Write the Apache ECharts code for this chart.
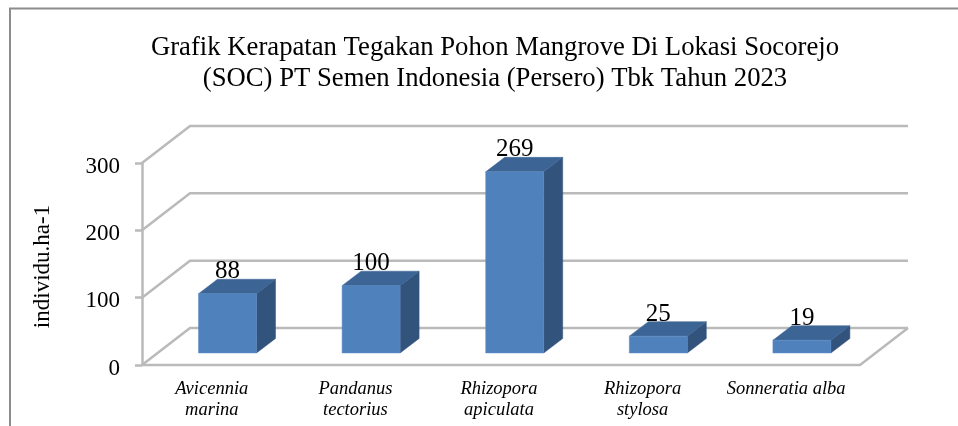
<!DOCTYPE html>
<html><head><meta charset="utf-8">
<style>html,body{margin:0;padding:0;background:#fff}#c{width:958px;height:426px}</style>
<script src="https://cdn.jsdelivr.net/npm/echarts@6/dist/echarts.min.js"></script>
</head><body><div id="c"></div>
<script>
const categories = ['Avicennia\nmarina','Pandanus\ntectorius','Rhizopora\napiculata','Rhizopora\nstylosa','Sonneratia alba'];
const values = [88,100,269,25,19];
const ticks = [0,100,200,300];
const titleText = 'Grafik Kerapatan Tegakan Pohon Mangrove Di Lokasi Socorejo\n(SOC) PT Semen Indonesia (Persero) Tbk Tahun 2023';
const yName = 'individu.ha-1';

const FONT = '"Liberation Serif","Times New Roman",serif';
const GRID = '#bababa';
const WALL = {dx:48, dy:-37};
const BAR = {lift:12, shift:13.7, width:58, dx:19, dy:-14.5};
const chart = echarts.init(document.getElementById('c'), null, {renderer:'canvas'});

function wallItem(params, api){
  const v = api.value(0);
  const p = api.coord([0, v]);
  const x0 = params.coordSys.x, x1 = x0 + params.coordSys.width;
  const line = pts => ({type:'polyline', shape:{points:pts}, style:{fill:null, stroke:GRID, lineWidth:2.5}});
  const kids = [line([[x0,p[1]],[x0+WALL.dx,p[1]+WALL.dy],[x1+WALL.dx,p[1]+WALL.dy]])];
  if(v===0) kids.push(line([[x0,p[1]],[x1,p[1]],[x1+WALL.dx,p[1]+WALL.dy]]));
  return {type:'group', children:kids};
}
function barItem(params, api){
  const i = api.value(0), v = api.value(1);
  const base = api.coord([i,0]), top = api.coord([i,v]);
  const cx = base[0] + BAR.shift, w = BAR.width;
  const l = cx - w/2, r = cx + w/2;
  const yb = base[1] - BAR.lift, yt = top[1] - BAR.lift;
  const poly = (pts,fill) => ({type:'polygon', shape:{points:pts}, style:{fill, stroke:fill, lineWidth:0.5}});
  return {type:'group', children:[
    poly([[r,yb],[r+BAR.dx,yb+BAR.dy],[r+BAR.dx,yt+BAR.dy],[r,yt]], '#31537c'),
    poly([[l,yt],[l+BAR.dx,yt+BAR.dy],[r+BAR.dx,yt+BAR.dy],[r,yt]], '#3c6494'),
    {type:'rect', shape:{x:l,y:yt,width:w,height:yb-yt}, style:{fill:'#4f81bd', stroke:'#5f8cc4', lineWidth:0.5}},
    {type:'text', style:{text:String(v), x:cx, y:yt+BAR.dy+5, align:'center', verticalAlign:'bottom',
      font:'25px '+FONT, fill:'#000'}}
  ]};
}
chart.setOption({
  animation:false,
  backgroundColor:'#fff',
  title:{text:titleText, left:490, top:27, textAlign:'center',
    textStyle:{fontFamily:FONT, fontSize:26.7, fontWeight:'normal', color:'#000', lineHeight:31}},
  grid:{left:142, top:163, width:718, height:202},
  xAxis:{type:'category', data:categories,
    axisLine:{show:false}, axisTick:{show:false},
    axisLabel:{fontFamily:FONT, fontStyle:'italic', fontSize:18.5, color:'#000', lineHeight:21.7, margin:13, interval:0, padding:[0,4,0,0]}},
  yAxis:{type:'value', min:0, max:300, interval:100,
    name:yName, nameLocation:'middle', nameGap:88, nameRotate:90,
    nameTextStyle:{fontFamily:FONT, fontSize:23, color:'#000', padding:[0,5,0,0]},
    axisLine:{show:true, lineStyle:{color:GRID, width:2.5}},
    axisTick:{show:true, length:7, lineStyle:{color:GRID, width:2.5}},
    axisLabel:{margin:22, formatter:'{a|{value}}',
      rich:{a:{fontFamily:FONT, fontSize:23, color:'#000', padding:[7,0,0,0]}}},
    splitLine:{show:false}},
  graphic:[{type:'polyline', silent:true, shape:{points:[[10,426],[10,8.5],[958,8.5]]},
    style:{fill:null, stroke:'#8c8c8c', lineWidth:2}}],
  series:[
    {type:'custom', silent:true, clip:false, z:1, renderItem:wallItem, encode:{y:0}, data:ticks.map(t=>[t])},
    {type:'custom', silent:true, clip:false, z:2, renderItem:barItem, encode:{x:0,y:1}, data:values.map((v,i)=>[i,v])}
  ]
});
</script></body></html>
